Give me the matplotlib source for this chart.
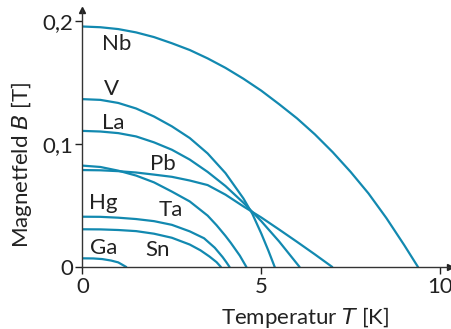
import matplotlib.pyplot as plt

plt.rcParams['font.family'] = ['Lato', 'DejaVu Sans']

# (T in K, B in T) per material
nb_T = [0, 0.5, 1, 1.5, 2, 2.5, 3, 3.5, 4, 4.5, 5, 5.5, 6, 6.5, 7, 7.5, 8, 8.5, 9, 9.39]
nb_B = [0.1956, 0.195, 0.1935, 0.1908, 0.187, 0.182, 0.1765, 0.1697, 0.162, 0.1532,
        0.1435, 0.1325, 0.121, 0.108, 0.0935, 0.0775, 0.06, 0.040, 0.018, 0]

v_T = [0, 0.5, 1, 1.5, 2, 2.5, 3, 3.5, 4, 4.5, 4.75, 5, 5.2, 5.38]
v_B = [0.1366, 0.136, 0.1335, 0.129, 0.1225, 0.1145, 0.105, 0.0925, 0.0765, 0.056,
       0.0435, 0.0275, 0.0135, 0]

la_T = [0, 0.5, 1, 1.5, 2, 2.5, 3, 3.5, 4, 4.5, 5, 5.5, 6.08]
la_B = [0.1108, 0.1103, 0.109, 0.1063, 0.1015, 0.0955, 0.0875, 0.0775, 0.066, 0.0525,
        0.0375, 0.021, 0]

pb_T = [0, 0.5, 1, 1.5, 2, 2.5, 3, 3.5, 4, 4.5, 5, 5.5, 6, 6.5, 7]
pb_B = [0.079, 0.0788, 0.0781, 0.077, 0.0753, 0.0735, 0.0705, 0.0668, 0.059, 0.0495,
        0.0405, 0.0307, 0.0207, 0.0105, 0]

ta_T = [0, 0.5, 1, 1.5, 2, 2.5, 3, 3.5, 3.75, 4, 4.15, 4.4, 4.59]
ta_B = [0.0826, 0.0815, 0.0785, 0.0745, 0.069, 0.0615, 0.0535, 0.042, 0.0342, 0.0255,
        0.0198, 0.0095, 0]

hg_T = [0, 0.5, 1, 1.5, 2, 2.5, 3, 3.4, 3.7, 3.92, 4.02, 4.12]
hg_B = [0.0411, 0.041, 0.0403, 0.0392, 0.0375, 0.0345, 0.0292, 0.0236, 0.0159, 0.0083,
        0.0043, 0]

sn_T = [0, 0.5, 1, 1.5, 2, 2.5, 3, 3.3, 3.55, 3.75, 3.88]
sn_B = [0.0309, 0.0308, 0.0303, 0.0294, 0.0273, 0.024, 0.0185, 0.0138, 0.0088, 0.0042, 0]

ga_T = [0, 0.3, 0.55, 0.8, 1.0, 1.24]
ga_B = [0.0073, 0.0072, 0.0067, 0.0055, 0.0040, 0]

names = ['Nb', 'V', 'La', 'Pb', 'Ta', 'Hg', 'Sn', 'Ga']
label_T = [0.96, 0.8, 0.86, 2.24, 2.47, 0.58, 2.1, 0.58]
label_B = [0.181, 0.1447, 0.1176, 0.0837, 0.0466, 0.052, 0.0141, 0.0154]

curves = [(nb_T, nb_B), (v_T, v_B), (la_T, la_B), (pb_T, pb_B),
          (ta_T, ta_B), (hg_T, hg_B), (sn_T, sn_B), (ga_T, ga_B)]

line_color = '#1289b0'
text_color = '#222222'

fig = plt.figure(figsize=(4.52, 3.29), dpi=100)
ax = fig.add_axes([0.1825, 0.1875, 0.8131, 0.7821])

for T, B in curves:
    ax.plot(T, B, color=line_color, lw=1.6, solid_capstyle='butt', solid_joinstyle='round')

for name, x, y in zip(names, label_T, label_B):
    ax.text(x, y, name, fontsize=16, color=text_color, ha='center', va='center')

ax.set_xlim(0, 10.28)
ax.set_ylim(0, 0.209)

for s in ['top', 'right']:
    ax.spines[s].set_visible(False)
for s in ['left', 'bottom']:
    ax.spines[s].set_color('#333333')
    ax.spines[s].set_linewidth(1.0)

# arrow heads at the axis ends
ax.plot(1, 0, '>', color='#222222', ms=4, transform=ax.transAxes, clip_on=False)
ax.plot(0, 1, '^', color='#222222', ms=4, transform=ax.transAxes, clip_on=False)

ax.set_xticks([0, 5, 10])
ax.set_xticklabels(['0', '5', '10'])
ax.set_yticks([0, 0.1, 0.2])
ax.set_yticklabels(['0', '0,1', '0,2'])
ax.tick_params(colors='#222222', labelsize=16, length=5, width=1.0, pad=2)

fig.text(0.675, 0.036, 'Temperatur $\\mathit{T}$ [K]', fontsize=16, color=text_color,
         ha='center', va='center')
fig.text(0.047, 0.50, 'Magnetfeld $\\mathit{B}$ [T]', fontsize=16, color=text_color,
         ha='center', va='center', rotation=90)

fig.savefig('out.png', dpi=100)
